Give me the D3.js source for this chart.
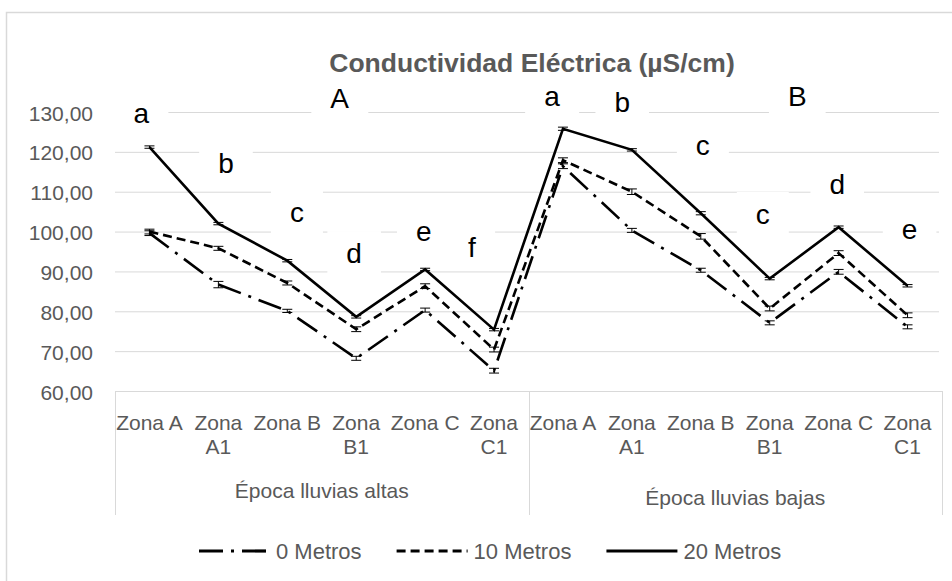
<!DOCTYPE html>
<html><head><meta charset="utf-8">
<script src="https://cdn.jsdelivr.net/npm/d3@7"></script>
<style>body{margin:0;background:#fff}svg{display:block}</style>
</head><body><svg id="c" width="952" height="581"></svg>
<script>
// ---------- data ----------
const title = "Conductividad Eléctrica (µS/cm)";
const categories = ["Zona A","Zona A1","Zona B","Zona B1","Zona C","Zona C1",
                    "Zona A","Zona A1","Zona B","Zona B1","Zona C","Zona C1"];
const groups = ["Época lluvias altas","Época lluvias bajas"];
const groupSize = 6;
const yTicks = [60,70,80,90,100,110,120,130];
const seriesNames = ["0 Metros","10 Metros","20 Metros"];
const values0  = [99.6, 86.7, 80.1, 68.2, 80.3, 65.1, 116.4, 100.3, 90.3, 77.1, 89.9, 76.1];
const values10 = [100.0, 95.8, 87.1, 75.5, 86.3, 70.4, 117.9, 110.0, 98.8, 80.7, 94.6, 79.0];
const values20 = [121.2, 102.0, 92.7, 78.6, 90.5, 75.4, 125.8, 120.5, 104.6, 88.2, 101.1, 86.4];
const errors0  = [0.6, 0.8, 0.4, 0.5, 0.5, 0.6, 0.6, 0.5, 0.5, 0.5, 0.6, 0.5];
const errors10 = [0.6, 0.5, 0.5, 0.6, 0.6, 0.6, 0.6, 0.7, 0.7, 0.6, 0.6, 0.6];
const errors20 = [0.3, 0.3, 0.3, 0.3, 0.3, 0.3, 0.4, 0.3, 0.4, 0.3, 0.3, 0.3];
// significance letters: text, category position (fractional index), value
const letterText = ["a","b","c","d","e","f","A","a","b","c","c","d","e","B"];
const letterPos  = [-0.12, 1.11, 2.14, 2.97, 3.98, 4.68, 2.76, 5.84, 6.86, 8.03, 8.90, 9.98, 11.03, 9.40];
const letterVal  = [129.6, 117.2, 104.7, 94.6, 99.9, 96.1, 133.5, 133.8, 132.3, 121.7, 104.4, 111.7, 100.4, 133.8];

// ---------- layout ----------
const svg = d3.select("#c");
const W = 952, H = 581;
const M = {left:115, right:942, top:112, bottom:391};
const gray = "#595959", grid = "#d9d9d9";
const font = "'Liberation Sans', Arial, sans-serif";

const x = d3.scaleBand().domain(d3.range(categories.length)).range([M.left, M.right]);
const xc = d3.scaleLinear().domain([-0.5, categories.length - 0.5]).range([M.left, M.right]);
const y = d3.scaleLinear().domain([60,130]).range([M.bottom, M.top]);
const fmt = v => d3.format(".2f")(v).replace(".", ",");

svg.append("rect").attr("width",W).attr("height",H).attr("fill","#fff");
// chart border
svg.append("rect").attr("x",6.5).attr("y",12.5).attr("width",960).attr("height",600)
  .attr("fill","none").attr("stroke",grid).attr("stroke-width",1.5);

// gridlines
svg.append("g").selectAll("line").data(yTicks.filter(t=>t>60)).join("line")
  .attr("x1",M.left).attr("x2",M.right-3)
  .attr("y1",d=>y(d)+0.5).attr("y2",d=>y(d)+0.5)
  .attr("stroke",grid).attr("stroke-width",1);

// y labels
svg.append("g").selectAll("text").data(yTicks).join("text")
  .attr("x",93).attr("y",d=>y(d)+1).attr("text-anchor","end")
  .attr("dominant-baseline","central")
  .attr("font-family",font).attr("font-size",21).attr("fill",gray)
  .text(fmt);

// category axis box
const axisBottom = 515;
const ax = svg.append("g").attr("stroke",grid).attr("stroke-width",1);
ax.append("line").attr("x1",M.left).attr("x2",M.right).attr("y1",M.bottom+0.5).attr("y2",M.bottom+0.5);
const sepIdx = [0, groupSize, categories.length];
sepIdx.forEach(i=>{
  const xx = i < categories.length ? x(i) : M.right;
  ax.append("line").attr("x1",Math.round(xx)+0.5).attr("x2",Math.round(xx)+0.5)
    .attr("y1",M.bottom).attr("y2",axisBottom);
});

// category labels (wrap when wider than band)
const catG = svg.append("g").attr("font-family",font).attr("font-size",21).attr("fill",gray)
  .attr("text-anchor","middle");
categories.forEach((c,i)=>{
  const t = catG.append("text").attr("x",x(i)+x.bandwidth()/2).attr("y",430).text(c);
  if (t.node().getComputedTextLength() > x.bandwidth()+5) {
    const k = c.lastIndexOf(" ");
    t.text(null);
    t.append("tspan").attr("x",x(i)+x.bandwidth()/2).attr("y",430).text(c.slice(0,k));
    t.append("tspan").attr("x",x(i)+x.bandwidth()/2).attr("y",454).text(c.slice(k+1));
  }
});
const groupBase = [498, 505];
groups.forEach((g,gi)=>{
  const x0 = x(gi*groupSize), x1 = gi*groupSize+groupSize < categories.length ? x(gi*groupSize+groupSize) : M.right;
  catG.append("text").attr("x",(x0+x1)/2).attr("y",groupBase[gi]).text(g);
});

// title
svg.append("text").attr("x",532).attr("y",72).attr("text-anchor","middle")
  .attr("font-family",font).attr("font-weight","bold").attr("font-size",26.5).attr("fill",gray)
  .text(title);

// letter label boxes (white backgrounds)
const letG = svg.append("g");
const letters = letterText.map((t,i)=>({t, p:letterPos[i], v:letterVal[i]}));
const lt = letG.selectAll("text").data(letters).join("text")
  .attr("x",d=>xc(d.p)).attr("y",d=>y(d.v)).attr("text-anchor","middle")
  .attr("dominant-baseline","central")
  .attr("font-family",font).attr("font-size",28).attr("fill","#000").text(d=>d.t);
lt.each(function(d){
  const b = this.getBBox();
  letG.insert("rect","text").attr("x",b.x-19).attr("y",b.y+b.height/2-22)
    .attr("width",b.width+38).attr("height",44).attr("fill","#fff");
});

// series
const series = [
  {name:seriesNames[0], v:values0, e:errors0, dash:"24,8,3,8"},
  {name:seriesNames[1], v:values10, e:errors10, dash:"9,5"},
  {name:seriesNames[2], v:values20, e:errors20, dash:null}
];
const line = d3.line().x((d,i)=>x(i)+x.bandwidth()/2).y(d=>y(d));
const sg = svg.append("g");
series.forEach(s=>{
  sg.append("path").attr("d",line(s.v)).attr("fill","none").attr("stroke","#000")
    .attr("stroke-width",2.6).attr("stroke-dasharray",s.dash).attr("stroke-linejoin","miter");
  const eb = sg.append("g").attr("stroke","#000").attr("stroke-width",1);
  s.v.forEach((v,i)=>{
    const cx = x(i)+x.bandwidth()/2;
    eb.append("line").attr("x1",cx).attr("x2",cx).attr("y1",y(v-s.e[i])).attr("y2",y(v+s.e[i]));
    [v-s.e[i], v+s.e[i]].forEach(w=>eb.append("line").attr("x1",cx-5).attr("x2",cx+5).attr("y1",y(w)).attr("y2",y(w)));
  });
});
letG.raise();

// legend
const lg = svg.append("g").attr("font-family",font).attr("font-size",22).attr("fill",gray);
let lx = 199;
series.forEach(s=>{
  lg.append("line").attr("x1",lx).attr("x2",lx+71).attr("y1",551).attr("y2",551)
    .attr("stroke","#000").attr("stroke-width",3.2).attr("stroke-dasharray",s.dash);
  const t = lg.append("text").attr("x",lx+77).attr("y",551).attr("dominant-baseline","central").text(s.name);
  lx += 77 + t.node().getComputedTextLength() + 35;
});
</script></body></html>
